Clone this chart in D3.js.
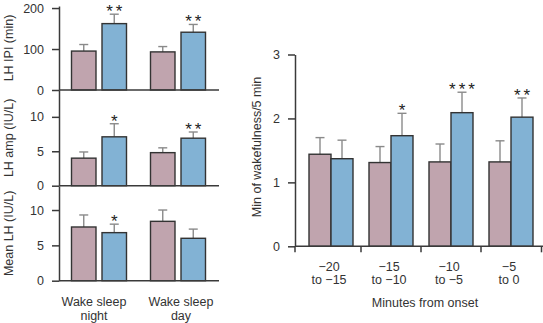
<!DOCTYPE html>
<html>
<head>
<meta charset="utf-8">
<script src="https://cdn.jsdelivr.net/npm/d3@7"></script>
<style>
  body { margin: 0; background: #fff; }
  svg { display: block; font-family: "Liberation Sans", Arial, sans-serif; }
</style>
</head>
<body>
<svg id="chart" width="543" height="323"></svg>
<script>
// left panels: two conditions (pink, blue) in two groups
const leftGroups = [['Wake sleep', 'night'], ['Wake sleep', 'day']];
const ipiMean = [[95, 162], [93, 141]];
const ipiErr = [[16, 23], [13, 19]];
const ipiStars = [['', '**'], ['', '**']];
const ampMean = [[4.0, 7.1], [4.8, 6.9]];
const ampErr = [[0.9, 1.9], [0.7, 0.9]];
const ampStars = [['', '*'], ['', '**']];
const lhMean = [[7.6, 6.8], [8.4, 6.0]];
const lhErr = [[1.7, 1.2], [1.6, 1.3]];
const lhStars = [['', '*'], ['', '']];

// right panel
const minuteGroups = [['\u221220', 'to \u221215'], ['\u221215', 'to \u221210'], ['\u221210', 'to \u22125'], ['\u22125', 'to 0']];
const wakeMean = [1.44, 1.31, 1.32, 1.32];
const wakeErr = [0.26, 0.25, 0.28, 0.33];
const sleepMean = [1.37, 1.73, 2.09, 2.02];
const sleepErr = [0.29, 0.35, 0.32, 0.30];
const minuteStars = ['', '*', '***', '**'];

const colors = ['#c0a4ae', '#82b2d4'];
const axisColor = '#3a3a3a';
const errColor = '#8a8a8a';

const svg = d3.select('#chart');

function styleAxis(g) {
  g.selectAll('path, line').attr('stroke', axisColor).attr('stroke-width', 1.5);
  g.selectAll('text').attr('fill', '#333').attr('font-size', 12.5);
  g.attr('font-family', null);
}

// center: group index -> x of group centre
function drawBars(g, center, sub, y, mean, err, stars) {
  const rows = [];
  mean.forEach((pair, i) => pair.forEach((v, j) => rows.push({i, j, v, e: err[i][j], s: stars[i][j]})));
  const cx = d => center(d.i) + sub(d.j);
  const bw = sub.bandwidth();
  // error bars (upper only)
  g.selectAll(null).data(rows).join('line')
    .attr('x1', d => cx(d) + bw / 2).attr('x2', d => cx(d) + bw / 2)
    .attr('y1', d => y(d.v)).attr('y2', d => y(d.v + d.e))
    .attr('stroke', errColor).attr('stroke-width', 1.4);
  g.selectAll(null).data(rows).join('line')
    .attr('x1', d => cx(d) + bw / 2 - 4.5).attr('x2', d => cx(d) + bw / 2 + 4.5)
    .attr('y1', d => y(d.v + d.e)).attr('y2', d => y(d.v + d.e))
    .attr('stroke', errColor).attr('stroke-width', 1.4);
  g.selectAll(null).data(rows).join('rect')
    .attr('x', cx).attr('width', bw)
    .attr('y', d => y(d.v)).attr('height', d => y(0) - y(d.v))
    .attr('fill', d => colors[d.j])
    .attr('stroke', '#333').attr('stroke-width', 1.4);
  g.selectAll(null).data(rows.filter(d => d.s)).join('text')
    .attr('x', d => cx(d) + bw / 2 + 1.5)
    .attr('y', d => y(d.v + d.e) + 3)
    .attr('text-anchor', 'middle')
    .attr('font-size', 17).attr('letter-spacing', 3)
    .attr('fill', '#222')
    .text(d => d.s);
}

// ---- left stacked panels
const lx = d3.scaleBand().domain([0, 1]).range([59.5, 217.5]);
const lcenter = i => lx(i) + lx.bandwidth() / 2;
const lsub = d3.scaleBand().domain([0, 1]).range([-27.5, 27.5]).paddingInner(0.197);

const panels = [
  {domain: [0, 205], range: [90, 6], ticks: [0, 100, 200], mean: ipiMean, err: ipiErr, stars: ipiStars, label: 'LH IPI (min)'},
  {domain: [0, 13.9], range: [185.7, 90], ticks: [0, 5, 10], mean: ampMean, err: ampErr, stars: ampStars, label: 'LH amp (IU/L)'},
  {domain: [0, 13.4], range: [280.7, 186], ticks: [0, 5, 10], mean: lhMean, err: lhErr, stars: lhStars, label: 'Mean LH (IU/L)'}
];

panels.forEach(p => {
  const y = d3.scaleLinear().domain(p.domain).range(p.range);
  const g = svg.append('g');
  drawBars(g, lcenter, lsub, y, p.mean, p.err, p.stars);
  g.append('line')
    .attr('x1', 59).attr('x2', 219).attr('y1', y(0)).attr('y2', y(0))
    .attr('stroke', axisColor).attr('stroke-width', 1.5);
  g.append('g').attr('transform', 'translate(59,0)')
    .call(d3.axisLeft(y).tickValues(p.ticks).tickSize(7).tickSizeOuter(0).tickPadding(8).tickFormat(d3.format('d')))
    .call(styleAxis);
  g.append('text')
    .attr('transform', `translate(12.5,${(p.range[0] + p.range[1]) / 2}) rotate(-90)`)
    .attr('text-anchor', 'middle').attr('font-size', 12.5).attr('fill', '#333')
    .text(p.label);
});

leftGroups.forEach((lines, i) => {
  const t = svg.append('text')
    .attr('text-anchor', 'middle').attr('font-size', 12.5).attr('fill', '#333');
  lines.forEach((s, k) => t.append('tspan')
    .attr('x', lcenter(i) + (i === 0 ? -5 : 3)).attr('y', 306 + k * 14).text(s));
});

// ---- right panel
const rx = d3.scaleBand().domain(d3.range(minuteGroups.length)).range([301, 541]);
const rcenter = i => rx(i) + rx.bandwidth() / 2;
const rsub = d3.scaleBand().domain([0, 1]).range([-22, 22]);
const ry = d3.scaleLinear().domain([0, 3]).range([246.3, 54.5]);

const rg = svg.append('g');
drawBars(rg, rcenter, rsub, ry,
  wakeMean.map((v, i) => [v, sleepMean[i]]),
  wakeErr.map((v, i) => [v, sleepErr[i]]),
  minuteStars.map(s => ['', s]));

rg.append('g').attr('transform', 'translate(295,0)')
  .call(d3.axisLeft(ry).tickValues([0, 1, 2, 3]).tickSize(7).tickSizeOuter(0).tickPadding(8).tickFormat(d3.format('d')))
  .call(styleAxis);

const bounds = [295].concat(d3.range(1, minuteGroups.length).map(i => rx(i)), [541.5]);
rg.append('line')
  .attr('x1', 295).attr('x2', 543).attr('y1', ry(0)).attr('y2', ry(0))
  .attr('stroke', axisColor).attr('stroke-width', 1.5);
rg.selectAll(null).data(bounds).join('line')
  .attr('x1', d => d).attr('x2', d => d)
  .attr('y1', ry(0)).attr('y2', ry(0) + 6)
  .attr('stroke', axisColor).attr('stroke-width', 1.5);

minuteGroups.forEach((lines, i) => {
  const t = rg.append('text')
    .attr('text-anchor', 'middle').attr('font-size', 12.5).attr('fill', '#333');
  lines.forEach((s, k) => t.append('tspan')
    .attr('x', rcenter(i) - 2).attr('y', 271 + k * 12.8).text(s));
});

rg.append('text')
  .attr('x', 425).attr('y', 307)
  .attr('text-anchor', 'middle').attr('font-size', 12.5).attr('fill', '#333')
  .text('Minutes from onset');

rg.append('text')
  .attr('transform', 'translate(261,147) rotate(-90)')
  .attr('text-anchor', 'middle').attr('font-size', 12.5).attr('fill', '#333')
  .text('Min of wakefulness/5 min');
</script>
</body>
</html>
